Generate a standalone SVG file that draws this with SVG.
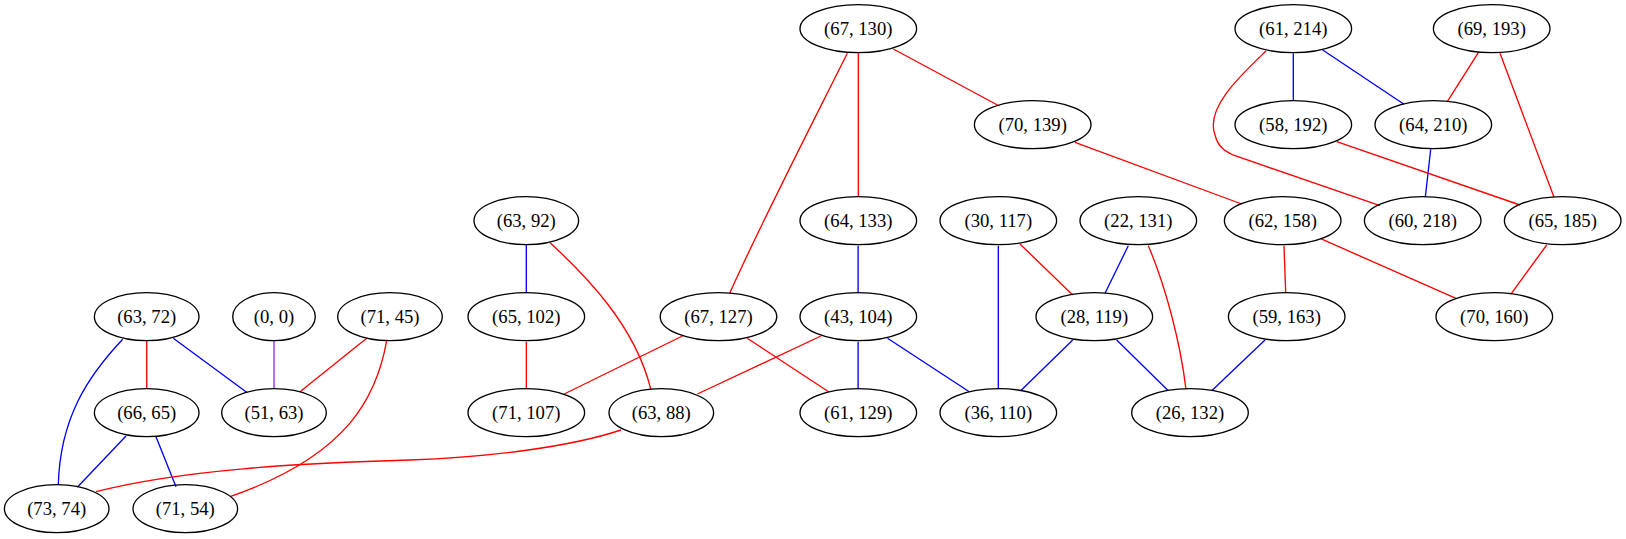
<svg xmlns="http://www.w3.org/2000/svg" width="1626" height="539" viewBox="0 0 1626 539">
<style>
.n ellipse{fill:none;stroke:#000;stroke-width:1.33}
.n text{font-family:"Liberation Serif","Times New Roman",serif;font-size:18.67px;text-anchor:middle;fill:#000}
#edges path{fill:none;stroke-width:1.33}
.r{stroke:#ff0000}.b{stroke:#0000ff}.p{stroke:#a020f0}
</style>
<rect width="1626" height="539" fill="#fff"/>
<g id="edges">
<path class="b" d="M122.7,339.3 C88,376 60,418 58.3,485"/>
<path class="r" d="M146.7,341 L146.7,389"/>
<path class="b" d="M173.3,338.3 L247.3,392.7"/>
<path class="p" d="M274,341 L274,389"/>
<path class="r" d="M366.7,338.3 L300,391.7"/>
<path class="r" d="M386.7,340.7 C377,395 350,455 230,496.7"/>
<path class="b" d="M126,436 L77.3,487.3"/>
<path class="b" d="M156,436.7 L176,486.7"/>
<path class="r" d="M621,430 C570,447 490,457 410,460 C300,463 180,470 96,491.7"/>
<path class="b" d="M526.3,245 L526.3,293.3"/>
<path class="r" d="M550.1,242.7 C585,275 635,325 650.8,389.3"/>
<path class="r" d="M526.3,341.7 L526.3,389.3"/>
<path class="r" d="M682.4,336 L564.2,394"/>
<path class="r" d="M747.2,338.3 L828.6,391.7"/>
<path class="r" d="M820.9,336 L697.4,394"/>
<path class="b" d="M858.1,245.7 L858.1,293.3"/>
<path class="b" d="M858.1,341.7 L858.1,389.3"/>
<path class="b" d="M887.5,338.3 L969.3,391.7"/>
<path class="r" d="M847.3,53.3 C815,118 760,225 729.7,293.3"/>
<path class="r" d="M858.3,53.3 L858.3,196.7"/>
<path class="r" d="M893.3,49 L999.3,106"/>
<path class="r" d="M1075,142.3 L1241.7,204"/>
<path class="b" d="M998.3,245.7 L998.3,389.3"/>
<path class="r" d="M1020,244 L1072.7,295"/>
<path class="b" d="M1128.3,245.7 L1105,293.3"/>
<path class="r" d="M1148.3,245.7 C1165,285 1180,340 1186,389.3"/>
<path class="b" d="M1072.7,340 L1020.7,390.7"/>
<path class="b" d="M1116.7,340 L1168.3,390.7"/>
<path class="b" d="M1265,340 L1211.7,390.7"/>
<path class="r" d="M1284,245.7 L1285.7,293.3"/>
<path class="b" d="M1293.3,53.3 L1293.3,101"/>
<path class="b" d="M1322.7,50 L1404,104.3"/>
<path class="r" d="M1266,51 C1240,76 1205,108 1215,135 C1218,147 1225,151 1233,155 L1380,205.7"/>
<path class="b" d="M1430.7,149.3 L1425.3,197.3"/>
<path class="r" d="M1336.7,141.7 L1520,205"/>
<path class="r" d="M1478.3,52.7 L1447.3,101.7"/>
<path class="r" d="M1500,53.3 L1554,197.3"/>
<path class="r" d="M1320.7,238.7 L1456,298.3"/>
<path class="r" d="M1546.7,245 L1510.7,294.3"/>
</g>
<g id="n_67_130" class="n"><ellipse cx="858.3" cy="28.7" rx="58.3" ry="24"/><text x="858.3" y="34.7">(67, 130)</text></g>
<g id="n_61_214" class="n"><ellipse cx="1293.3" cy="28.7" rx="58.3" ry="24"/><text x="1293.3" y="34.7">(61, 214)</text></g>
<g id="n_69_193" class="n"><ellipse cx="1491.7" cy="28.7" rx="58.3" ry="24"/><text x="1491.7" y="34.7">(69, 193)</text></g>
<g id="n_70_139" class="n"><ellipse cx="1032.7" cy="124.7" rx="58.3" ry="24"/><text x="1032.7" y="130.7">(70, 139)</text></g>
<g id="n_58_192" class="n"><ellipse cx="1293.3" cy="124.7" rx="58.3" ry="24"/><text x="1293.3" y="130.7">(58, 192)</text></g>
<g id="n_64_210" class="n"><ellipse cx="1433.3" cy="124.7" rx="58.3" ry="24"/><text x="1433.3" y="130.7">(64, 210)</text></g>
<g id="n_63_92" class="n"><ellipse cx="526.3" cy="220.7" rx="52.3" ry="24"/><text x="526.3" y="226.7">(63, 92)</text></g>
<g id="n_64_133" class="n"><ellipse cx="858.3" cy="220.7" rx="58.3" ry="24"/><text x="858.3" y="226.7">(64, 133)</text></g>
<g id="n_30_117" class="n"><ellipse cx="998.3" cy="220.7" rx="58.3" ry="24"/><text x="998.3" y="226.7">(30, 117)</text></g>
<g id="n_22_131" class="n"><ellipse cx="1138.3" cy="220.7" rx="58.3" ry="24"/><text x="1138.3" y="226.7">(22, 131)</text></g>
<g id="n_62_158" class="n"><ellipse cx="1282.7" cy="220.7" rx="58.3" ry="24"/><text x="1282.7" y="226.7">(62, 158)</text></g>
<g id="n_60_218" class="n"><ellipse cx="1422.7" cy="220.7" rx="58.3" ry="24"/><text x="1422.7" y="226.7">(60, 218)</text></g>
<g id="n_65_185" class="n"><ellipse cx="1562.7" cy="220.7" rx="58.3" ry="24"/><text x="1562.7" y="226.7">(65, 185)</text></g>
<g id="n_63_72" class="n"><ellipse cx="146.7" cy="316.7" rx="52.3" ry="24"/><text x="146.7" y="322.7">(63, 72)</text></g>
<g id="n_0_0" class="n"><ellipse cx="274" cy="316.7" rx="41.3" ry="24"/><text x="274" y="322.7">(0, 0)</text></g>
<g id="n_71_45" class="n"><ellipse cx="390" cy="316.7" rx="52.3" ry="24"/><text x="390" y="322.7">(71, 45)</text></g>
<g id="n_65_102" class="n"><ellipse cx="526.3" cy="316.7" rx="58.3" ry="24"/><text x="526.3" y="322.7">(65, 102)</text></g>
<g id="n_67_127" class="n"><ellipse cx="718.5" cy="316.7" rx="58.3" ry="24"/><text x="718.5" y="322.7">(67, 127)</text></g>
<g id="n_43_104" class="n"><ellipse cx="858.3" cy="316.7" rx="58.3" ry="24"/><text x="858.3" y="322.7">(43, 104)</text></g>
<g id="n_28_119" class="n"><ellipse cx="1094.3" cy="316.7" rx="58.3" ry="24"/><text x="1094.3" y="322.7">(28, 119)</text></g>
<g id="n_59_163" class="n"><ellipse cx="1286.7" cy="316.7" rx="58.3" ry="24"/><text x="1286.7" y="322.7">(59, 163)</text></g>
<g id="n_70_160" class="n"><ellipse cx="1494.3" cy="316.7" rx="58.3" ry="24"/><text x="1494.3" y="322.7">(70, 160)</text></g>
<g id="n_66_65" class="n"><ellipse cx="146.7" cy="412.7" rx="52.3" ry="24"/><text x="146.7" y="418.7">(66, 65)</text></g>
<g id="n_51_63" class="n"><ellipse cx="274" cy="412.7" rx="52.3" ry="24"/><text x="274" y="418.7">(51, 63)</text></g>
<g id="n_71_107" class="n"><ellipse cx="526.3" cy="412.7" rx="58.3" ry="24"/><text x="526.3" y="418.7">(71, 107)</text></g>
<g id="n_63_88" class="n"><ellipse cx="661.3" cy="412.7" rx="52.3" ry="24"/><text x="661.3" y="418.7">(63, 88)</text></g>
<g id="n_61_129" class="n"><ellipse cx="858.3" cy="412.7" rx="58.3" ry="24"/><text x="858.3" y="418.7">(61, 129)</text></g>
<g id="n_36_110" class="n"><ellipse cx="998.3" cy="412.7" rx="58.3" ry="24"/><text x="998.3" y="418.7">(36, 110)</text></g>
<g id="n_26_132" class="n"><ellipse cx="1190" cy="412.7" rx="58.3" ry="24"/><text x="1190" y="418.7">(26, 132)</text></g>
<g id="n_73_74" class="n"><ellipse cx="56.7" cy="508.7" rx="52.3" ry="24"/><text x="56.7" y="514.7">(73, 74)</text></g>
<g id="n_71_54" class="n"><ellipse cx="185.3" cy="508.7" rx="52.3" ry="24"/><text x="185.3" y="514.7">(71, 54)</text></g>
</svg>
